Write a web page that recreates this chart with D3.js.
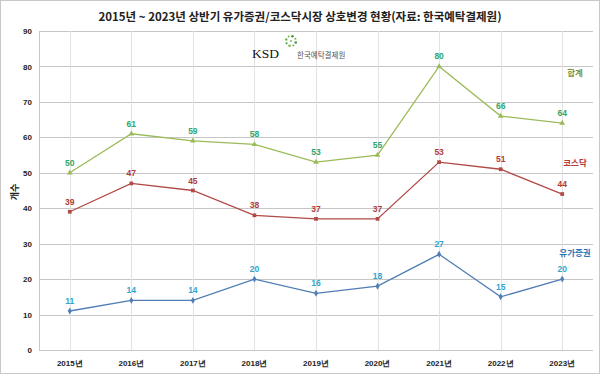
<!DOCTYPE html>
<html>
<head>
<meta charset="utf-8">
<script src="https://cdn.jsdelivr.net/npm/d3@7"></script>
<style>
  body { margin: 0; background: #fff; }
  svg { font-family: "Noto Sans CJK KR", "Noto Sans", sans-serif; }
</style>
</head>
<body>
<svg width="600" height="374"></svg>
<script>
var years = ["2015년", "2016년", "2017년", "2018년", "2019년", "2020년", "2021년", "2022년", "2023년"];
var total = [50, 61, 59, 58, 53, 55, 80, 66, 64];
var kosdaq = [39, 47, 45, 38, 37, 37, 53, 51, 44];
var kospi = [11, 14, 14, 20, 16, 18, 27, 15, 20];
var yTicks = [0, 10, 20, 30, 40, 50, 60, 70, 80, 90];

var svg = d3.select("svg"),
    margin = {top: 31, right: 7, bottom: 24, left: 39},
    width = 600 - margin.left - margin.right,
    height = 374 - margin.top - margin.bottom,
    g = svg.append("g").attr("transform", "translate(" + margin.left + "," + margin.top + ")");

// frame around the picture
svg.append("rect")
    .attr("x", 0.5).attr("y", 0.5).attr("width", 599).attr("height", 373)
    .attr("fill", "none").attr("stroke", "#c8c8c8");

svg.append("text")
    .attr("x", 300).attr("y", 21)
    .attr("text-anchor", "middle")
    .style("font-size", "11.5px").style("font-weight", "bold")
    .attr("fill", "#222")
    .text("2015년 ~ 2023년 상반기 유가증권/코스닥시장 상호변경 현황(자료: 한국예탁결제원)");

var x = d3.scaleBand().domain(years).range([0, width]),
    y = d3.scaleLinear().domain([0, 90]).range([height, 0]);

// gridlines
g.selectAll(".hgrid").data(yTicks).enter().append("line")
    .attr("x1", 0).attr("x2", width)
    .attr("y1", function(d) { return Math.round(y(d)) + 0.5; })
    .attr("y2", function(d) { return Math.round(y(d)) + 0.5; })
    .attr("stroke", "#c6c6c6");

g.selectAll(".vgrid").data(years).enter().append("line")
    .attr("x1", function(d) { return Math.round(x(d) + x.bandwidth() / 2) + 0.5; })
    .attr("x2", function(d) { return Math.round(x(d) + x.bandwidth() / 2) + 0.5; })
    .attr("y1", 0).attr("y2", height)
    .attr("stroke", "#e2e2e2");

g.append("line")
    .attr("x1", 0.5).attr("x2", 0.5).attr("y1", 0).attr("y2", height)
    .attr("stroke", "#c6c6c6");

// axes
var yAxis = g.append("g").call(d3.axisLeft(y).tickValues(yTicks).tickSize(0).tickPadding(7));
yAxis.select(".domain").remove();
yAxis.selectAll("text").style("font-size", "8px").style("font-weight", "bold").attr("fill", "#222")
    .style("font-family", "Arial, 'Liberation Sans', sans-serif");

var xAxis = g.append("g").attr("transform", "translate(0," + height + ")")
    .call(d3.axisBottom(x).tickSize(0).tickPadding(10));
xAxis.select(".domain").remove();
xAxis.selectAll("text").style("font-size", "8px").style("font-weight", "bold").attr("fill", "#222");

svg.append("text")
    .attr("transform", "translate(15,192) rotate(-90)")
    .attr("text-anchor", "middle")
    .attr("dy", "0.35em")
    .style("font-size", "9px").style("font-weight", "bold")
    .attr("fill", "#222")
    .text("개수");

var series = [
  {name: "합계", values: total, line: "#9bbb59", label: "#2ea56b", legend: "#76923c", symbol: d3.symbolTriangle, ly: 78.2},
  {name: "코스닥", values: kosdaq, line: "#b24a48", label: "#b23a38", legend: "#b23a38", symbol: d3.symbolSquare, ly: 52.8},
  {name: "유가증권", values: kospi, line: "#4f7db4", label: "#2fa6cf", legend: "#2e75b6", symbol: d3.symbolDiamond, ly: 27.4}
];

var line = d3.line()
    .x(function(d, i) { return x(years[i]) + x.bandwidth() / 2; })
    .y(function(d) { return y(d); });

series.forEach(function(s) {
  g.append("path")
      .attr("d", line(s.values))
      .attr("fill", "none")
      .attr("stroke", s.line)
      .attr("stroke-width", 1.3);

  g.selectAll(null).data(s.values).enter().append("path")
      .attr("d", d3.symbol().type(s.symbol).size(14))
      .attr("transform", function(d, i) { return "translate(" + (x(years[i]) + x.bandwidth() / 2) + "," + y(d) + ")"; })
      .attr("fill", s.line);

  g.selectAll(null).data(s.values).enter().append("text")
      .attr("x", function(d, i) { return x(years[i]) + x.bandwidth() / 2; })
      .attr("y", function(d) { return y(d) - 7; })
      .attr("text-anchor", "middle")
      .style("font-size", "8.5px").style("font-weight", "bold")
      .style("font-family", "Arial, 'Liberation Sans', sans-serif")
      .attr("fill", s.label)
      .text(function(d) { return d; });

  g.append("text")
      .attr("x", 536)
      .attr("y", y(s.ly))
      .attr("dy", "0.35em")
      .attr("text-anchor", "middle")
      .style("font-size", "8.5px").style("font-weight", "bold")
      .attr("fill", s.legend)
      .text(s.name);
});

// KSD logo
var logo = svg.append("g").attr("transform", "translate(252,58)");
logo.append("text")
    .attr("x", 0).attr("y", 0)
    .style("font-family", "'Liberation Serif', 'DejaVu Serif', serif")
    .style("font-size", "13.5px")
    .attr("fill", "#111")
    .text("KSD");
logo.append("text")
    .attr("x", 45).attr("y", 0)
    .style("font-size", "7.5px")
    .attr("fill", "#555")
    .text("한국예탁결제원");
var spark = logo.append("g").attr("transform", "translate(39,-17)");
d3.range(8).forEach(function(i) {
  var a = i * Math.PI / 4 + 0.3;
  spark.append("circle")
      .attr("cx", Math.cos(a) * 5).attr("cy", Math.sin(a) * 5)
      .attr("r", i % 2 ? 1 : 1.3)
      .attr("fill", i % 3 ? "#7ab648" : "#3f9a3a");
});
spark.append("circle").attr("r", 0.9).attr("fill", "#7ab648");
</script>
</body>
</html>
